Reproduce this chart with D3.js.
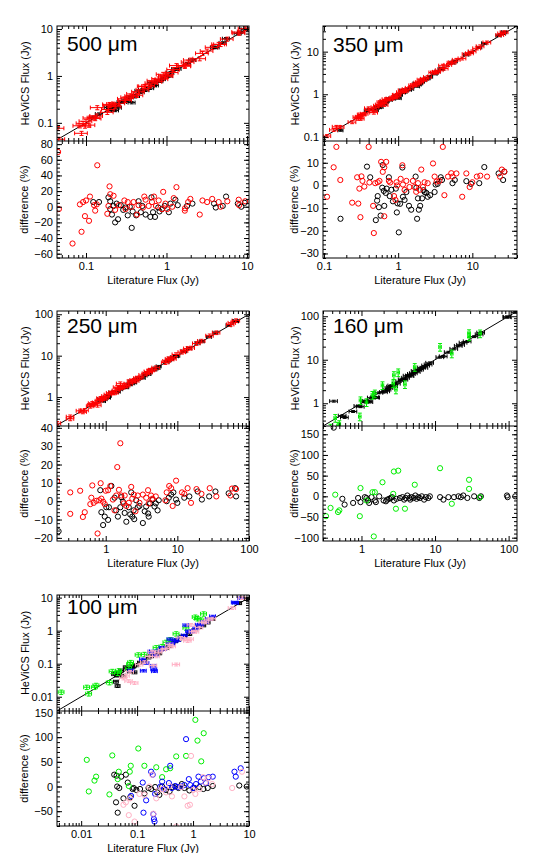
<!DOCTYPE html>
<html>
<head>
<meta charset="utf-8">
<script src="https://cdn.jsdelivr.net/npm/d3@7"></script>
<style>
body{margin:0;background:#fff;}
text{font-family:"Liberation Sans",Arial,Helvetica,sans-serif;fill:#000;}
</style>
</head>
<body>
<div id="chart"></div>
<script>
// [literature flux (Jy), difference (%)] per source
var black500 = [[0.123,6],[0.145,6],[0.19,12],[0.2,7],[0.2,-3],[0.21,-10],[0.23,-20],[0.25,-16],[0.22,1],[0.24,4],[0.27,2],[0.29,-4],[0.31,-1],[0.33,-11],[0.35,0],[0.37,-27],[0.38,-6],[0.42,-11],[0.45,7],[0.48,-7],[0.5,1],[0.55,-10],[0.63,-13],[0.65,12],[0.68,-7],[0.72,-13],[0.79,-1],[0.82,-6],[0.88,-3],[0.95,1],[1.07,-7],[1.12,4],[1.29,9],[1.38,2],[1.8,1],[2.1,4],[3.9,4],[4.1,-1],[5.0,1],[5.5,13],[7.7,4],[8.5,0],[9.4,5]];
var red500 = [[0.045,70],[0.046,-3],[0.068,-47],[0.088,-32],[0.084,3],[0.092,6],[0.097,-12],[0.1,8],[0.109,-18],[0.112,13],[0.13,-5],[0.126,2],[0.138,53],[0.136,3],[0.184,-9],[0.196,26],[0.2,16],[0.22,14],[0.19,1],[0.23,-4],[0.256,2],[0.3,8],[0.33,6],[0.31,-3],[0.37,0],[0.39,6],[0.43,-10],[0.45,2],[0.51,-1],[0.53,13],[0.55,9],[0.6,1],[0.66,6],[0.7,13],[0.74,1],[0.8,8],[0.91,19],[0.88,-3],[0.97,4],[1.02,-3],[1.23,11],[1.33,25],[1.18,0],[1.7,-2],[1.98,10],[1.86,6],[1.69,-5],[2.59,-10],[2.8,8],[3.2,6],[3.7,10],[4.45,6],[5.7,7],[4.7,0],[7.9,9],[8.0,2],[9.5,7]];

var black350 = [[0.167,-14.7],[0.38,8.3],[0.42,3.6],[0.5,-15.3],[0.52,-6.7],[0.53,-4.7],[0.55,-9.6],[0.58,-13.3],[0.61,-1],[0.62,9],[0.64,-2.4],[0.65,-9],[0.68,-3.3],[0.7,-1.4],[0.75,3.6],[0.77,-4.7],[0.81,-1.9],[0.85,-7],[0.93,-1.4],[0.96,-11.9],[0.98,-7.9],[1.02,-20.7],[1.06,-8.1],[1.14,7.9],[1.16,-5],[1.22,-6.4],[1.29,-2.9],[1.4,-9],[1.5,-10.7],[1.72,3.9],[1.76,-1],[1.8,-14.7],[1.85,-5.7],[1.9,-10.7],[1.98,-9],[2.1,-5.7],[2.2,-2.1],[2.27,-2.9],[2.4,-3.3],[2.5,-5],[2.7,-4.3],[3.1,-2.9],[3.2,0.4],[3.4,0.7],[3.75,3.6],[3.9,2.4],[5.4,1],[5.8,2.4],[8.3,1.9],[9.6,0.7],[12.4,1],[14.5,8.1],[22.6,5.3],[26,2.4],[27,6.1]];
var red350 = [[0.11,-5],[0.147,17],[0.135,8],[0.166,2.4],[0.24,-7.6],[0.28,3.6],[0.29,-8],[0.3,-1.4],[0.31,-14],[0.32,4],[0.33,2],[0.35,-0.5],[0.4,17],[0.41,1.3],[0.46,-9],[0.47,-21],[0.49,1],[0.53,1.4],[0.56,2],[0.59,10.4],[0.62,6],[0.65,8],[0.69,10.4],[0.65,-13.6],[0.75,2],[0.78,1.3],[0.88,-4.7],[0.92,-6.4],[0.95,1.4],[0.97,0],[1.08,2.9],[1.14,8.9],[1.16,0.4],[1.22,-2],[1.29,2],[1.42,-0.7],[1.58,2],[1.66,-0.7],[1.75,-2.8],[1.85,1],[1.95,-1.9],[2.05,7],[2.16,-0.7],[2.27,1.4],[2.5,1],[2.95,9.7],[3.1,3.9],[3.3,1.7],[3.6,2],[4.0,17],[4.2,-4.3],[4.7,3.9],[5.2,5.4],[5.4,3.9],[6.1,5.3],[7.3,-5],[8.3,5.3],[9.2,-0.7],[10,1.4],[11.5,3.9],[12.8,4.3],[15.8,3.9],[23.6,3.9],[25,7],[27,6]];

var black250 = [[0.22,-16.4],[0.84,6],[0.87,-6],[0.92,-13],[0.97,-8.4],[1.02,-3.3],[1.08,-10.2],[1.11,-3.3],[1.2,8.3],[1.33,1.9],[1.4,-5],[1.48,-8.4],[1.6,-3.3],[1.65,2.2],[1.74,-0.3],[1.84,-6.4],[1.94,-11.2],[2.1,-3.3],[2.2,-7.2],[2.27,4.8],[2.35,-8.4],[2.45,-5],[2.5,-9.8],[2.66,0.5],[2.8,-3.3],[2.96,-2.6],[3.3,-11.9],[3.5,-5.5],[3.67,-2.9],[3.9,-6.7],[3.98,-8.4],[4.17,-1.2],[4.5,0.9],[4.8,-2.9],[5.0,-1.2],[5.3,-5],[5.5,0.5],[7.1,0],[7.6,1.9],[8.2,3.6],[8.8,4.8],[9.6,0.9],[10,-0.9],[12.5,1.9],[14.7,2.6],[19.2,5.3],[22,0.9],[27.8,2.6],[34,5.3],[52,4.3],[64,7.1],[66,2.6]];
var red250 = [[0.21,10.9],[0.32,4.8],[0.32,-6.9],[0.44,5.7],[0.48,-8.6],[0.51,-6],[0.61,-1.6],[0.63,1.9],[0.65,8.6],[0.68,-0.9],[0.74,0.2],[0.77,-17.6],[0.81,0.5],[0.85,9.8],[0.87,1.4],[0.92,-0.3],[0.97,-1.6],[1.0,5.7],[1.08,6],[1.16,8.3],[1.26,0.9],[1.33,-5],[1.4,3.1],[1.45,18.6],[1.53,6.2],[1.6,31.6],[1.65,3.1],[1.78,-1.2],[1.84,3.1],[1.94,-2.6],[2.1,-0.9],[2.27,7.8],[2.35,1.4],[2.47,3.6],[2.6,-5.5],[2.8,3.1],[2.96,-0.9],[3.3,3.6],[3.67,1.9],[3.9,6],[3.98,-1.2],[4.3,3.1],[4.5,1.4],[5.0,2.6],[6.8,0.5],[7.1,4.8],[7.7,8.3],[8.2,7.1],[8.6,-2.6],[9.6,11.2],[11.6,4.8],[12.5,4],[13.9,7.1],[15.5,-0.9],[18.5,6.6],[21.7,4],[28.3,7.1],[35,2.6],[55,3.1],[58,6.9],[66,6.6]];

var black160 = [[0.42,166],[0.55,-6],[0.59,-20],[0.77,-16],[0.9,-4],[0.97,-14],[1.11,-2],[1.17,-4],[1.23,-10],[1.27,-16],[1.37,-2],[1.52,-10],[1.57,-14],[1.74,0],[2.0,-10],[2.15,-12],[2.24,-8],[2.38,-6],[2.5,-4],[2.6,-2],[2.76,-10],[3.0,-6],[3.33,-4],[3.6,-2],[3.8,-8],[4.0,-4],[4.2,2],[4.5,-4],[4.6,-8],[4.8,-2],[5.1,-4],[5.4,2],[5.6,-6],[5.9,-2],[6.2,-4],[6.6,0],[7.1,-8],[7.5,-2],[8.1,-4],[8.5,0],[11.7,-2],[13,-8],[15.2,-2],[18.1,-2],[20.8,0],[22.4,-2],[24.2,2],[27.5,-4],[34,0],[40,-4],[42,0],[95,2],[97,-2],[123,0]];
var green160 = [[0.33,-48],[0.38,-28],[0.44,4],[0.48,-38],[0.5,-34],[0.95,-48],[0.97,20],[1.17,-10],[1.41,10],[1.47,-97],[1.52,10],[1.93,34],[2.76,60],[2.7,6],[2.94,-30],[3.16,62],[3.9,-30],[5.3,28],[11.7,68],[16.9,-18],[29,40],[29,18],[41,-2]];

var black100 = [[0.039,24],[0.045,-53],[0.042,-32],[0.044,0],[0.043,22],[0.048,-3],[0.052,20],[0.057,-24],[0.063,24],[0.068,8],[0.075,-22],[0.083,-5],[0.087,-3],[0.09,-39],[0.097,-7],[0.113,-5],[0.135,-14],[0.16,-3],[0.178,-5],[0.21,-1],[0.23,-12],[0.25,-17],[0.28,0],[0.33,-7],[0.38,-10],[0.43,-1],[0.48,0],[0.55,-3],[0.63,5],[0.7,-3],[0.86,-8],[1.06,-3],[1.3,-1],[1.53,-5],[1.83,-3],[2.25,1],[6.7,2],[9.1,0]];
var green100 = [[0.0044,214],[0.0126,54],[0.0137,-10],[0.0173,12],[0.0185,20],[0.032,-16],[0.036,63],[0.045,15],[0.047,30],[0.077,42],[0.071,1],[0.074,30],[0.105,77],[0.135,42],[0.22,39],[0.28,19],[0.33,35],[0.39,37],[0.5,61],[0.75,62],[1.1,135],[1.2,93],[1.55,108],[1.4,51]];
var blue100 = [[0.078,-19],[0.126,8],[0.145,-28],[0.13,-53],[0.178,30],[0.19,24],[0.195,-56],[0.2,-66],[0.205,-71],[0.21,-15],[0.26,0],[0.28,10],[0.3,-5],[0.37,7],[0.39,42],[0.42,-3],[0.48,1],[0.53,-1],[0.61,0],[0.7,3],[0.75,96],[0.84,15],[0.89,3],[1.0,-3],[1.13,5],[1.25,20],[1.38,10],[1.57,17],[1.7,7],[1.9,19],[2.25,20],[5.5,30],[5.8,20],[7.1,37]];
var pink100 = [[0.057,-37],[0.063,-32],[0.071,-58],[0.075,-24],[0.09,-71],[0.11,-15],[0.135,-17],[0.165,0],[0.185,24],[0.195,-55],[0.22,-24],[0.24,-8],[0.28,-5],[0.33,-12],[0.38,1],[0.42,-20],[0.5,-81],[0.61,-1],[0.7,-20],[0.8,-39],[0.88,-37],[0.92,62],[1.0,-7],[1.1,-15],[1.3,-5],[1.5,19],[1.66,8],[1.9,17],[2.2,5],[5.0,-3],[7.5,30]];

var bandLabels = ["500 \u03bcm","350 \u03bcm","250 \u03bcm","160 \u03bcm","100 \u03bcm"];
var fluxTicks = [[0.1,1,10],[0.1,1,10],[1,10,100],[1,10,100],[0.01,0.1,1,10]];
var diffTicks = [[-60,-40,-20,0,20,40,60,80],[-30,-20,-10,0,10],[-20,-10,0,10,20,30,40],[-100,-50,0,50,100,150],[-50,0,50,100,150]];

var panels = [
  {left:57, right:249, top:26, mid:141, bottom:258, labelY:51, ytx:25, ydx:24,
   xDom:[0.0436,10.6], yDom:[0.041,11.6], dDom:[-65.5,84], dMinor:5,
   groups:[{c:"#000", d:black500, ex:0.1, ey:0.06},{c:"#ff0000", d:red500, ex:0.18, ey:0.1}]},
  {left:323, right:517, top:26, mid:141, bottom:258, labelY:52, ytx:295, ydx:294,
   xDom:[0.097,40], yDom:[0.08,40], dDom:[-32,19.6], dMinor:2,
   groups:[{c:"#000", d:black350, ex:0.08, ey:0.05},{c:"#ff0000", d:red350, ex:0.12, ey:0.08}]},
  {left:57, right:249, top:311, mid:426, bottom:541, labelY:333, ytx:25, ydx:24,
   xDom:[0.209,100], yDom:[0.2,120], dDom:[-21.7,41], dMinor:2,
   groups:[{c:"#000", d:black250, ex:0.08, ey:0.05},{c:"#ff0000", d:red250, ex:0.12, ey:0.1}]},
  {left:323, right:517, top:311, mid:426, bottom:541, labelY:333, ytx:295, ydx:294,
   xDom:[0.3,130], yDom:[0.3,132], dDom:[-108,170], dMinor:10,
   groups:[{c:"#000", d:black160, ex:0.12, ey:0.05},{c:"#00ee00", d:green160, ex:0.04, ey:0.2}]},
  {left:57, right:249, top:595, mid:711, bottom:826, labelY:614, ytx:25, ydx:24,
   xDom:[0.0037,10], yDom:[0.0037,12], dDom:[-80,153], dMinor:10,
   groups:[{c:"#000", d:black100, ex:0.1, ey:0.1},{c:"#00ee00", d:green100, ex:0.12, ey:0.15},
           {c:"#0000ff", d:blue100, ex:0.12, ey:0.08},{c:"#ffb0c4", d:pink100, ex:0.15, ey:0.1}]}
];

function logMinors(dom){
  var out=[];
  for(var e=Math.floor(Math.log10(dom[0]));e<=Math.ceil(Math.log10(dom[1]));e++){
    for(var k=2;k<10;k++){
      var v=k*Math.pow(10,e);
      if(v>=dom[0] && v<=dom[1]) out.push(v);
    }
  }
  return out;
}

function styleAxis(g){
  g.select(".domain").remove();
  g.selectAll("line").attr("stroke","#000");
  g.selectAll("text").attr("font-size","11px").attr("font-family","Liberation Sans, Arial, sans-serif");
}

function fmt(v){ return v<0 ? "\u2212"+Math.abs(v) : String(v); }

function init(){
  var svg = d3.select("#chart").append("svg").attr("width",533).attr("height",853);

  panels.forEach(function(p,i){
    var x = d3.scaleLog().domain(p.xDom).range([p.left,p.right]);
    var y = d3.scaleLog().domain(p.yDom).range([p.mid,p.top]);
    var yd = d3.scaleLinear().domain(p.dDom).range([p.bottom,p.mid]);
    var w = p.right-p.left;

    svg.append("clipPath").attr("id","ct"+i).append("rect")
      .attr("x",p.left).attr("y",p.top).attr("width",w).attr("height",p.mid-p.top);
    svg.append("clipPath").attr("id","cb"+i).append("rect")
      .attr("x",p.left).attr("y",p.mid).attr("width",w).attr("height",p.bottom-p.mid);

    var gt = svg.append("g").attr("clip-path","url(#ct"+i+")");
    var gb = svg.append("g").attr("clip-path","url(#cb"+i+")");

    // one-to-one line
    gt.append("line")
      .attr("x1",x(p.xDom[0])).attr("y1",y(p.xDom[0]))
      .attr("x2",x(p.xDom[1])).attr("y2",y(p.xDom[1]))
      .attr("stroke","#000").attr("stroke-width",1);

    p.groups.forEach(function(gr){
      var pts = gr.d.map(function(d){ return {x:d[0], y:d[0]*(1+d[1]/100), diff:d[1]}; });
      var e = gt.selectAll(null).data(pts).enter().append("g")
        .attr("stroke",gr.c).attr("stroke-width",1).attr("fill","none");
      e.append("line")
        .attr("x1",function(d){return x(d.x*(1-gr.ex));})
        .attr("x2",function(d){return x(d.x*(1+gr.ex));})
        .attr("y1",function(d){return y(d.y);}).attr("y2",function(d){return y(d.y);});
      e.append("line")
        .attr("x1",function(d){return x(d.x);}).attr("x2",function(d){return x(d.x);})
        .attr("y1",function(d){return y(d.y*(1-gr.ey));})
        .attr("y2",function(d){return y(d.y*(1+gr.ey));});
      [1-gr.ex,1+gr.ex].forEach(function(f){
        e.append("line")
          .attr("x1",function(d){return x(d.x*f);}).attr("x2",function(d){return x(d.x*f);})
          .attr("y1",function(d){return y(d.y)-2;}).attr("y2",function(d){return y(d.y)+2;});
      });
      [1-gr.ey,1+gr.ey].forEach(function(f){
        e.append("line")
          .attr("x1",function(d){return x(d.x)-2;}).attr("x2",function(d){return x(d.x)+2;})
          .attr("y1",function(d){return y(d.y*f);}).attr("y2",function(d){return y(d.y*f);});
      });

      gb.selectAll(null).data(pts).enter().append("circle")
        .attr("cx",function(d){return x(d.x);})
        .attr("cy",function(d){return yd(d.diff);})
        .attr("r",2.6)
        .attr("fill","none").attr("stroke",gr.c).attr("stroke-width",1);
    });

    var xt = fluxTicks[i], xm = logMinors(p.xDom);
    var yt = fluxTicks[i], ym = logMinors(p.yDom);
    var dt = diffTicks[i];
    var dm = d3.range(Math.ceil(p.dDom[0]/p.dMinor)*p.dMinor, p.dDom[1], p.dMinor);

    // x ticks: bottom of each sub-panel and top of each sub-panel
    [p.mid,p.bottom].forEach(function(yy,j){
      var a = svg.append("g").attr("transform","translate(0,"+yy+")")
        .call(d3.axisBottom(x).tickValues(xt).tickSize(-5).tickPadding(4)
          .tickFormat(j==1 ? function(v){return String(v);} : function(){return "";}));
      styleAxis(a);
      var am = svg.append("g").attr("transform","translate(0,"+yy+")")
        .call(d3.axisBottom(x).tickValues(xm).tickSize(-3).tickFormat(""));
      styleAxis(am);
    });
    [p.top,p.mid].forEach(function(yy){
      var a = svg.append("g").attr("transform","translate(0,"+yy+")")
        .call(d3.axisTop(x).tickValues(xt).tickSize(-5).tickFormat(""));
      styleAxis(a);
      var am = svg.append("g").attr("transform","translate(0,"+yy+")")
        .call(d3.axisTop(x).tickValues(xm).tickSize(-3).tickFormat(""));
      styleAxis(am);
    });

    // flux y axis
    var al = svg.append("g").attr("transform","translate("+p.left+",0)")
      .call(d3.axisLeft(y).tickValues(yt).tickSize(-5).tickPadding(4).tickFormat(function(v){return String(v);}));
    styleAxis(al);
    styleAxis(svg.append("g").attr("transform","translate("+p.left+",0)")
      .call(d3.axisLeft(y).tickValues(ym).tickSize(-3).tickFormat("")));
    styleAxis(svg.append("g").attr("transform","translate("+p.right+",0)")
      .call(d3.axisRight(y).tickValues(yt).tickSize(-5).tickFormat("")));
    styleAxis(svg.append("g").attr("transform","translate("+p.right+",0)")
      .call(d3.axisRight(y).tickValues(ym).tickSize(-3).tickFormat("")));

    // difference y axis
    styleAxis(svg.append("g").attr("transform","translate("+p.left+",0)")
      .call(d3.axisLeft(yd).tickValues(dt).tickSize(-5).tickPadding(4).tickFormat(fmt)));
    styleAxis(svg.append("g").attr("transform","translate("+p.left+",0)")
      .call(d3.axisLeft(yd).tickValues(dm).tickSize(-3).tickFormat("")));
    styleAxis(svg.append("g").attr("transform","translate("+p.right+",0)")
      .call(d3.axisRight(yd).tickValues(dt).tickSize(-5).tickFormat("")));
    styleAxis(svg.append("g").attr("transform","translate("+p.right+",0)")
      .call(d3.axisRight(yd).tickValues(dm).tickSize(-3).tickFormat("")));

    // frames
    svg.append("rect").attr("x",p.left).attr("y",p.top).attr("width",w).attr("height",p.bottom-p.top)
      .attr("fill","none").attr("stroke","#000").attr("stroke-width",1);
    svg.append("line").attr("x1",p.left).attr("x2",p.right).attr("y1",p.mid).attr("y2",p.mid)
      .attr("stroke","#000").attr("stroke-width",1.2);

    // titles
    svg.append("text").attr("x",p.left+10).attr("y",p.labelY)
      .attr("font-size","21px").text(bandLabels[i]);
    svg.append("text").attr("x",(p.left+p.right)/2).attr("y",p.bottom+26)
      .attr("text-anchor","middle").attr("font-size","11px").text("Literature Flux (Jy)");
    svg.append("text").attr("transform","translate("+p.ytx+","+((p.top+p.mid)/2)+") rotate(-90)")
      .attr("text-anchor","middle").attr("dy","0.35em").attr("font-size","11px").text("HeViCS Flux (Jy)");
    svg.append("text").attr("transform","translate("+p.ydx+","+((p.mid+p.bottom)/2)+") rotate(-90)")
      .attr("text-anchor","middle").attr("dy","0.35em").attr("font-size","11px").text("difference (%)");
  });
}

window.onload = init;
</script>
</body>
</html>
